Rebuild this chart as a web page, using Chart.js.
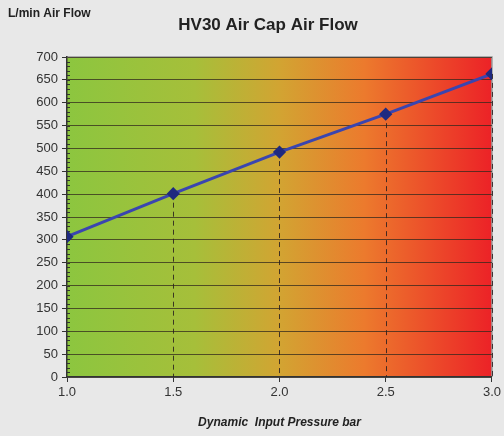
<!DOCTYPE html>
<html>
<head>
<meta charset="utf-8">
<script src="https://cdn.jsdelivr.net/npm/chart.js@4.4.1/dist/chart.umd.min.js"></script>
<style>
  html, body { margin: 0; padding: 0; background: #e8e8e8; }
  #wrap { width: 504px; height: 436px; }
</style>
</head>
<body>
<div id="wrap"><canvas id="myChart" width="504" height="436"></canvas></div>
<script>
const pressure = [1.0, 1.5, 2.0, 2.5, 3.0]
const airFlow = [307, 401, 492, 575, 663]
const xTicks = [1.0, 1.5, 2.0, 2.5, 3.0]
const chartTitle = 'HV30 Air Cap Air Flow'
const yTitle = 'L/min Air Flow'
const xTitle = 'Dynamic  Input Pressure bar'

const ctx = document.getElementById('myChart')

// gradient fill behind the plot + drop lines + minor ticks + texts
const decor = {
  id: 'decor',
  beforeDatasetsDraw(chart) {
    const c = chart.ctx
    const a = chart.chartArea
    const x = chart.scales.x
    const y = chart.scales.y
    c.save()
    // dashed drop lines
    c.strokeStyle = 'rgba(40,30,30,0.85)'
    c.lineWidth = 1
    c.setLineDash([5, 4])
    for (let i = 1; i < pressure.length; i++) {
      const px = Math.round(x.getPixelForValue(pressure[i])) + 0.5
      c.beginPath()
      c.moveTo(px, y.getPixelForValue(airFlow[i]))
      c.lineTo(px, a.bottom)
      c.stroke()
    }
    c.setLineDash([])
    // minor ticks on y axis
    c.strokeStyle = '#333'
    for (let v = 10; v < 700; v += 10) {
      const py = Math.round(y.getPixelForValue(v)) + 0.5
      c.beginPath()
      c.moveTo(a.left, py)
      c.lineTo(a.left + 3, py)
      c.stroke()
    }
    c.restore()
  },
  beforeDraw(chart) {
    const c = chart.ctx
    const a = chart.chartArea
    c.save()
    c.fillStyle = '#e8e8e8'
    c.fillRect(0, 0, chart.width, chart.height)
    const g = c.createLinearGradient(a.left, 0, a.right, 0)
    g.addColorStop(0, '#8cc63f')
    g.addColorStop(0.3, '#a6bf3a')
    g.addColorStop(0.5, '#d2a432')
    g.addColorStop(0.7, '#ec7a2d')
    g.addColorStop(1, '#ec2227')
    c.fillStyle = g
    c.fillRect(a.left, a.top, a.right - a.left, a.bottom - a.top)
    // plot border top/right
    c.strokeStyle = '#999'
    c.lineWidth = 1.5
    c.beginPath()
    c.moveTo(a.left, a.top)
    c.lineTo(a.right, a.top)
    c.lineTo(a.right, a.bottom)
    c.stroke()
    c.restore()
  },
  afterDraw(chart) {
    const c = chart.ctx
    c.save()
    c.fillStyle = '#222'
    c.textBaseline = 'middle'
    c.font = 'bold 12px "Liberation Sans", Arial, sans-serif'
    c.textAlign = 'left'
    c.fillText(yTitle, 8, 14)
    c.font = 'bold 17px "Liberation Sans", Arial, sans-serif'
    c.textAlign = 'center'
    c.fillText(chartTitle, 268, 25)
    c.restore()
  }
}

new Chart(ctx, {
  type: 'line',
  data: {
    datasets: [{
      label: 'Air Flow',
      data: pressure.map((p, i) => ({ x: p, y: airFlow[i] })),
      borderColor: '#3a45b0',
      borderWidth: 3,
      pointStyle: 'rectRot',
      pointRadius: 4.5,
      pointBackgroundColor: '#1f2a80',
      pointBorderColor: '#1f2a80',
      tension: 0
    }]
  },
  options: {
    responsive: false,
    animation: false,
    layout: { padding: { top: 57, right: 11, left: 0, bottom: 0 } },
    plugins: {
      legend: { display: false },
      title: { display: false },
      tooltip: { enabled: false }
    },
    scales: {
      x: {
        type: 'linear',
        min: 1,
        max: 3,
        afterBuildTicks: s => { s.ticks = xTicks.map(v => ({ value: v })) },
        afterFit: s => { s.height = 59 },
        ticks: {
          color: '#333',
          font: { size: 13, family: '"Liberation Sans", Arial, sans-serif' },
          padding: 3,
          callback: v => Number(v).toFixed(1)
        },
        grid: { drawOnChartArea: false, tickLength: 5, color: '#333' },
        border: { color: '#333', width: 1.5 },
        title: {
          display: true,
          text: xTitle,
          color: '#222',
          font: { size: 12, weight: 'bold', style: 'italic', family: '"Liberation Sans", Arial, sans-serif' },
          padding: { top: 6, bottom: 6 }
        }
      },
      y: {
        min: 0,
        max: 700,
        afterFit: s => { s.width = 67 },
        ticks: {
          stepSize: 50,
          color: '#333',
          font: { size: 13, family: '"Liberation Sans", Arial, sans-serif' },
          padding: 4
        },
        grid: {
          color: 'rgba(50,40,30,0.75)',
          lineWidth: 1,
          tickLength: 5,
          tickColor: '#333'
        },
        border: { color: '#333', width: 1.5 }
      }
    }
  },
  plugins: [decor]
})
</script>
</body>
</html>
